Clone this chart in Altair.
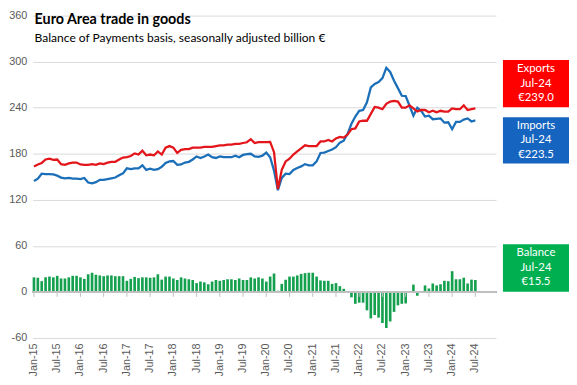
import altair as alt
import pandas as pd

mon = ["Jan", "Feb", "Mar", "Apr", "May", "Jun", "Jul", "Aug", "Sep", "Oct", "Nov", "Dec"]
years = ["15", "16", "17", "18", "19", "20", "21", "22", "23", "24"]
months = [f"{m}-{y}" for y in years for m in mon]  # category axis Jan-15 .. Dec-24

exports = [
    163.5, 166, 168, 172.5, 173.5, 172, 172.5, 166.5, 165.5, 167.5, 168.5, 168.5,
    166, 165.5, 165.5, 166.5, 165.5, 167.5, 166.5, 168.5, 169.5, 169.5, 172.5, 175,
    175.5, 177, 180.5, 179, 184, 178, 179, 178, 183, 179, 188, 190,
    188, 181, 185, 186, 186, 188, 188, 188, 189, 189, 189, 190,
    191, 191, 192, 192, 193, 193, 194, 195, 199, 194, 195, 195,
    195, 195.5, 182, 134, 159, 170, 173.5, 179, 183, 187, 191, 190,
    190, 190, 196, 196, 198, 196, 200, 202, 201, 205, 212, 213,
    222, 223, 223, 232, 241, 240, 238, 245, 248, 249, 248, 240,
    240, 243, 239, 235, 237, 237, 234, 236, 234, 236, 235, 235,
    239, 238, 238, 243, 237, 238, 239,
]
imports = [
    144.5, 147.5, 154, 153.5, 153.5, 153, 151.5, 149, 148, 148.5, 147.5, 147.5,
    147, 148.5, 142.5, 141.5, 143, 146, 146, 147, 148, 149, 152, 154.5,
    161, 160, 161, 161, 165, 159, 160.5, 159, 160, 163, 168, 170,
    170.5, 165.5, 166, 168.5, 169.5, 172.5, 176.5, 174.5, 176.5, 179, 175.5, 174.5,
    176.5, 175.5, 175.5, 175.5, 177.5, 175.5, 178.5, 179.5, 180, 176.5, 176, 177.5,
    181.5, 175.5, 158, 132.5, 148.5, 154, 153.5, 159, 161.5, 163.5, 166.5, 165,
    165, 170, 181, 181.5, 183.5, 185.5, 188.5, 194.5, 197, 206, 219, 228.5,
    236, 237, 247, 266.5, 271, 273.5, 278.5, 292, 286.5, 275, 265.5, 255.5,
    255, 242.5, 229.5, 240, 236, 228.5, 229.5, 225, 225.5, 226, 220.5, 221,
    212, 221.5, 221.5, 224.5, 226, 222, 223.5,
]
balance = [
    19, 18.5, 14, 19, 20, 19, 21, 17.5, 17.5, 19, 21, 21,
    19, 17, 23, 25, 22.5, 21.5, 20.5, 21.5, 21.5, 20.5, 20.5, 20.5,
    14.5, 17, 19.5, 18, 19, 19, 18.5, 19, 23, 16, 20, 20,
    17.5, 15.5, 19, 17.5, 16.5, 15.5, 11.5, 13.5, 12.5, 10, 13.5, 15.5,
    14.5, 15.5, 16.5, 16.5, 15.5, 17.5, 15.5, 15.5, 19, 17.5, 19, 17.5,
    13.5, 20, 24, 1.5, 10.5, 16, 20, 20, 21.5, 23.5, 24.5, 25,
    25, 20, 15, 14.5, 14.5, 10.5, 11.5, 7.5, 4, -1, -7, -15.5,
    -14, -14, -24, -34.5, -30, -33.5, -40.5, -47, -38.5, -26, -17.5, -15.5,
    -15, 0.5, 9.5, -5, 1, 8.5, 4.5, 11, 8.5, 10, 14.5, 14,
    27, 16.5, 16.5, 18.5, 11, 16, 15.5,
]
y_ticks = [-60, 0, 60, 120, 180, 240, 300, 360]
x_labels = months[0:115:6]

title_text = "Euro Area trade in goods"
subtitle_text = "Balance of Payments basis, seasonally adjusted billion €"

RED, BLUE, GREEN = "#e3161c", "#1b6fb8", "#14a04e"
BOX_RED, BOX_BLUE, BOX_GREEN = "#ff0000", "#1565c0", "#00b050"

n = len(exports)
df = pd.DataFrame({
    "month": months[:n],
    "idx": list(range(n)),
    "Exports": exports,
    "Imports": imports,
    "Balance": balance,
})

xscale = alt.Scale(domain=months, paddingInner=0.32, paddingOuter=0)
yscale = alt.Scale(domain=[-60, 360], nice=False, zero=False)

x_axis = alt.Axis(values=x_labels, labelAngle=270, domain=False, ticks=False, grid=False,
                  labelFont="Liberation Sans", labelFontSize=11, labelColor="#595959",
                  labelPadding=5, title=None)
y_axis = alt.Axis(values=y_ticks, domain=False, ticks=False, grid=True, gridColor="#d9d9d9",
                  labelFont="Liberation Sans", labelFontSize=11, labelColor="#595959",
                  labelPadding=6, title=None, labelExpr="'' + datum.value")

bars = alt.Chart(df).mark_bar(color=GREEN).encode(
    x=alt.X("month:N", scale=xscale, axis=x_axis),
    y=alt.Y("Balance:Q", scale=yscale, axis=y_axis),
)

zero_line = alt.Chart(df).mark_rule(color="#bfbfbf", strokeWidth=1).encode(
    y=alt.datum(0), x=alt.value(0), x2=alt.value(470)
)
tick_df = pd.DataFrame({"month": x_labels})
ticks = alt.Chart(tick_df).mark_rule(color="#bfbfbf", strokeWidth=1, y2Offset=5).encode(
    x=alt.X("month:N", scale=xscale), y=alt.datum(0), y2=alt.datum(0)
)

imp_line = alt.Chart(df).mark_line(color=BLUE, strokeWidth=2.3).encode(
    x=alt.X("month:N", scale=xscale), y=alt.Y("Imports:Q", scale=yscale), order="idx:Q"
)
exp_line = alt.Chart(df).mark_line(color=RED, strokeWidth=2.3).encode(
    x=alt.X("month:N", scale=xscale), y=alt.Y("Exports:Q", scale=yscale), order="idx:Q"
)

title = alt.Chart(pd.DataFrame({"t": [title_text]})).mark_text(
    align="left", baseline="alphabetic", font="Lato", fontSize=14.5, fontWeight="bold", color="#000000"
).encode(text="t:N", x=alt.value(2), y=alt.value(9))
subtitle = alt.Chart(pd.DataFrame({"t": [subtitle_text]})).mark_text(
    align="left", baseline="alphabetic", font="Lato", fontSize=12.2, color="#000000"
).encode(text="t:N", x=alt.value(2), y=alt.value(26.5))

last_month = months[n - 1]
boxes = [
    ("Exports", exports[-1], BOX_RED, 45, 93),
    ("Imports", imports[-1], BOX_BLUE, 103, 150),
    ("Balance", balance[-1], BOX_GREEN, 232, 280),
]
box_layers = []
for name, val, col, y0, y1 in boxes:
    lines = [name, last_month, f"€{val:.1f}"]
    rect = alt.Chart(pd.DataFrame({"t": [name]})).mark_rect(color=col).encode(
        x=alt.value(477), x2=alt.value(544), y=alt.value(y0), y2=alt.value(y1)
    )
    box_layers.append(rect)
    mid = (y0 + y1) / 2
    for k, line in enumerate(lines):
        txt = alt.Chart(pd.DataFrame({"t": [line]})).mark_text(
            color="white", font="Lato", fontSize=11.5, align="center", baseline="middle"
        ).encode(text="t:N", x=alt.value(510.5), y=alt.value(mid + (k - 1) * 14.7))
        box_layers.append(txt)

chart = alt.layer(bars, zero_line, ticks, imp_line, exp_line, title, subtitle, *box_layers).properties(
    width=470, height=327,
    padding={"left": 25, "top": 5, "right": 74, "bottom": 45},
    autosize=alt.AutoSizeParams(type="none"),
).configure_view(stroke=None)

chart.save("out.html", embed_options={"renderer": "svg", "actions": False})
